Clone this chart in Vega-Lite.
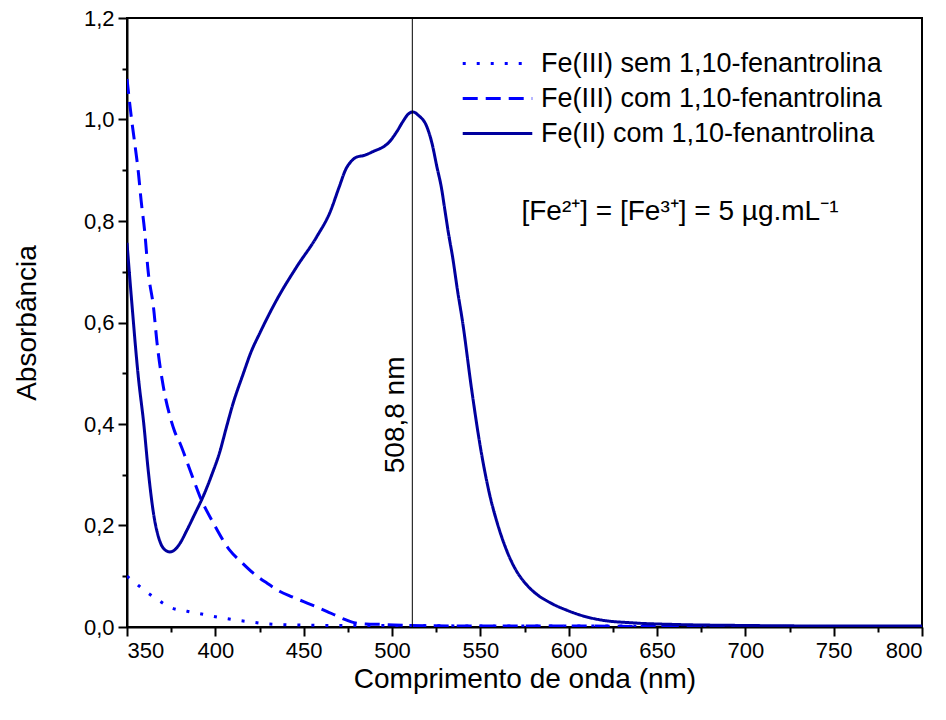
{
  "$schema": "https://vega.github.io/schema/vega-lite/v6.json",
  "width": 795,
  "height": 609,
  "autosize": {"type": "none"},
  "padding": {"left": 127, "top": 18, "right": 24, "bottom": 93},
  "background": "white",
  "config": {
    "view": {"stroke": "black", "strokeWidth": 2},
    "font": "Liberation Sans",
    "axis": {"labelFont": "Liberation Sans", "titleFont": "Liberation Sans", "labelColor": "black", "titleColor": "black", "titleFontWeight": "normal", "domainColor": "black", "domainWidth": 2, "tickColor": "black", "tickWidth": 2, "grid": false},
    "legend": {"labelFont": "Liberation Sans", "labelColor": "black"}
  },
  "datasets": {
    "curves": [
      {"s": "Fe(III) sem 1,10-fenantrolina", "x": 350, "y": 0.100},
      {"s": "Fe(III) sem 1,10-fenantrolina", "x": 355, "y": 0.086},
      {"s": "Fe(III) sem 1,10-fenantrolina", "x": 360, "y": 0.072},
      {"s": "Fe(III) sem 1,10-fenantrolina", "x": 366, "y": 0.057},
      {"s": "Fe(III) sem 1,10-fenantrolina", "x": 375, "y": 0.038},
      {"s": "Fe(III) sem 1,10-fenantrolina", "x": 384, "y": 0.031},
      {"s": "Fe(III) sem 1,10-fenantrolina", "x": 393, "y": 0.025},
      {"s": "Fe(III) sem 1,10-fenantrolina", "x": 402, "y": 0.019},
      {"s": "Fe(III) sem 1,10-fenantrolina", "x": 411, "y": 0.014},
      {"s": "Fe(III) sem 1,10-fenantrolina", "x": 420, "y": 0.010},
      {"s": "Fe(III) sem 1,10-fenantrolina", "x": 430, "y": 0.006},
      {"s": "Fe(III) sem 1,10-fenantrolina", "x": 445, "y": 0.004},
      {"s": "Fe(III) sem 1,10-fenantrolina", "x": 470, "y": 0.003},
      {"s": "Fe(III) sem 1,10-fenantrolina", "x": 500, "y": 0.003},
      {"s": "Fe(III) sem 1,10-fenantrolina", "x": 550, "y": 0.002},
      {"s": "Fe(III) sem 1,10-fenantrolina", "x": 600, "y": 0.002},
      {"s": "Fe(III) sem 1,10-fenantrolina", "x": 700, "y": 0.001},
      {"s": "Fe(III) sem 1,10-fenantrolina", "x": 800, "y": 0.001},

      {"s": "Fe(III) com 1,10-fenantrolina", "x": 350, "y": 1.08},
      {"s": "Fe(III) com 1,10-fenantrolina", "x": 352.6, "y": 1.0},
      {"s": "Fe(III) com 1,10-fenantrolina", "x": 354.5, "y": 0.95},
      {"s": "Fe(III) com 1,10-fenantrolina", "x": 356.4, "y": 0.897},
      {"s": "Fe(III) com 1,10-fenantrolina", "x": 358, "y": 0.84},
      {"s": "Fe(III) com 1,10-fenantrolina", "x": 360, "y": 0.78},
      {"s": "Fe(III) com 1,10-fenantrolina", "x": 362, "y": 0.70},
      {"s": "Fe(III) com 1,10-fenantrolina", "x": 365, "y": 0.63},
      {"s": "Fe(III) com 1,10-fenantrolina", "x": 367, "y": 0.56},
      {"s": "Fe(III) com 1,10-fenantrolina", "x": 370.6, "y": 0.473},
      {"s": "Fe(III) com 1,10-fenantrolina", "x": 374.4, "y": 0.414},
      {"s": "Fe(III) com 1,10-fenantrolina", "x": 377, "y": 0.385},
      {"s": "Fe(III) com 1,10-fenantrolina", "x": 380, "y": 0.362},
      {"s": "Fe(III) com 1,10-fenantrolina", "x": 385.7, "y": 0.309},
      {"s": "Fe(III) com 1,10-fenantrolina", "x": 391.3, "y": 0.257},
      {"s": "Fe(III) com 1,10-fenantrolina", "x": 399, "y": 0.204},
      {"s": "Fe(III) com 1,10-fenantrolina", "x": 408, "y": 0.152},
      {"s": "Fe(III) com 1,10-fenantrolina", "x": 415, "y": 0.127},
      {"s": "Fe(III) com 1,10-fenantrolina", "x": 421.5, "y": 0.106},
      {"s": "Fe(III) com 1,10-fenantrolina", "x": 429, "y": 0.087},
      {"s": "Fe(III) com 1,10-fenantrolina", "x": 436.6, "y": 0.070},
      {"s": "Fe(III) com 1,10-fenantrolina", "x": 443, "y": 0.060},
      {"s": "Fe(III) com 1,10-fenantrolina", "x": 450, "y": 0.050},
      {"s": "Fe(III) com 1,10-fenantrolina", "x": 457, "y": 0.040},
      {"s": "Fe(III) com 1,10-fenantrolina", "x": 463, "y": 0.031},
      {"s": "Fe(III) com 1,10-fenantrolina", "x": 468, "y": 0.023},
      {"s": "Fe(III) com 1,10-fenantrolina", "x": 472.5, "y": 0.016},
      {"s": "Fe(III) com 1,10-fenantrolina", "x": 477, "y": 0.010},
      {"s": "Fe(III) com 1,10-fenantrolina", "x": 485, "y": 0.006},
      {"s": "Fe(III) com 1,10-fenantrolina", "x": 495, "y": 0.005},
      {"s": "Fe(III) com 1,10-fenantrolina", "x": 510, "y": 0.003},
      {"s": "Fe(III) com 1,10-fenantrolina", "x": 550, "y": 0.002},
      {"s": "Fe(III) com 1,10-fenantrolina", "x": 600, "y": 0.002},
      {"s": "Fe(III) com 1,10-fenantrolina", "x": 650, "y": 0.001},
      {"s": "Fe(III) com 1,10-fenantrolina", "x": 800, "y": 0.001},

      {"s": "Fe(II) com 1,10-fenantrolina", "x": 350, "y": 0.757},
      {"s": "Fe(II) com 1,10-fenantrolina", "x": 352.6, "y": 0.644},
      {"s": "Fe(II) com 1,10-fenantrolina", "x": 356.4, "y": 0.493},
      {"s": "Fe(II) com 1,10-fenantrolina", "x": 359.5, "y": 0.40},
      {"s": "Fe(II) com 1,10-fenantrolina", "x": 362, "y": 0.309},
      {"s": "Fe(II) com 1,10-fenantrolina", "x": 365, "y": 0.224},
      {"s": "Fe(II) com 1,10-fenantrolina", "x": 368.7, "y": 0.168},
      {"s": "Fe(II) com 1,10-fenantrolina", "x": 371.5, "y": 0.152},
      {"s": "Fe(II) com 1,10-fenantrolina", "x": 374.3, "y": 0.148},
      {"s": "Fe(II) com 1,10-fenantrolina", "x": 377, "y": 0.152},
      {"s": "Fe(II) com 1,10-fenantrolina", "x": 380, "y": 0.165},
      {"s": "Fe(II) com 1,10-fenantrolina", "x": 383.8, "y": 0.19},
      {"s": "Fe(II) com 1,10-fenantrolina", "x": 388, "y": 0.22},
      {"s": "Fe(II) com 1,10-fenantrolina", "x": 393.2, "y": 0.258},
      {"s": "Fe(II) com 1,10-fenantrolina", "x": 398, "y": 0.30},
      {"s": "Fe(II) com 1,10-fenantrolina", "x": 402.7, "y": 0.347},
      {"s": "Fe(II) com 1,10-fenantrolina", "x": 406, "y": 0.39},
      {"s": "Fe(II) com 1,10-fenantrolina", "x": 410, "y": 0.44},
      {"s": "Fe(II) com 1,10-fenantrolina", "x": 415.9, "y": 0.50},
      {"s": "Fe(II) com 1,10-fenantrolina", "x": 420, "y": 0.54},
      {"s": "Fe(II) com 1,10-fenantrolina", "x": 425.3, "y": 0.58},
      {"s": "Fe(II) com 1,10-fenantrolina", "x": 434.8, "y": 0.645},
      {"s": "Fe(II) com 1,10-fenantrolina", "x": 446.1, "y": 0.71},
      {"s": "Fe(II) com 1,10-fenantrolina", "x": 457.4, "y": 0.769},
      {"s": "Fe(II) com 1,10-fenantrolina", "x": 465, "y": 0.818},
      {"s": "Fe(II) com 1,10-fenantrolina", "x": 470, "y": 0.866},
      {"s": "Fe(II) com 1,10-fenantrolina", "x": 474, "y": 0.903},
      {"s": "Fe(II) com 1,10-fenantrolina", "x": 477, "y": 0.918},
      {"s": "Fe(II) com 1,10-fenantrolina", "x": 480, "y": 0.926},
      {"s": "Fe(II) com 1,10-fenantrolina", "x": 484, "y": 0.929},
      {"s": "Fe(II) com 1,10-fenantrolina", "x": 490, "y": 0.938},
      {"s": "Fe(II) com 1,10-fenantrolina", "x": 495, "y": 0.946},
      {"s": "Fe(II) com 1,10-fenantrolina", "x": 498, "y": 0.954},
      {"s": "Fe(II) com 1,10-fenantrolina", "x": 502.7, "y": 0.976},
      {"s": "Fe(II) com 1,10-fenantrolina", "x": 506, "y": 0.995},
      {"s": "Fe(II) com 1,10-fenantrolina", "x": 509, "y": 1.010},
      {"s": "Fe(II) com 1,10-fenantrolina", "x": 511.8, "y": 1.015},
      {"s": "Fe(II) com 1,10-fenantrolina", "x": 515, "y": 1.008},
      {"s": "Fe(II) com 1,10-fenantrolina", "x": 519.7, "y": 0.986},
      {"s": "Fe(II) com 1,10-fenantrolina", "x": 522.5, "y": 0.955},
      {"s": "Fe(II) com 1,10-fenantrolina", "x": 525.4, "y": 0.907},
      {"s": "Fe(II) com 1,10-fenantrolina", "x": 528, "y": 0.865},
      {"s": "Fe(II) com 1,10-fenantrolina", "x": 530, "y": 0.82},
      {"s": "Fe(II) com 1,10-fenantrolina", "x": 532, "y": 0.775},
      {"s": "Fe(II) com 1,10-fenantrolina", "x": 534.4, "y": 0.727},
      {"s": "Fe(II) com 1,10-fenantrolina", "x": 537, "y": 0.665},
      {"s": "Fe(II) com 1,10-fenantrolina", "x": 540, "y": 0.60},
      {"s": "Fe(II) com 1,10-fenantrolina", "x": 545, "y": 0.47},
      {"s": "Fe(II) com 1,10-fenantrolina", "x": 550, "y": 0.355},
      {"s": "Fe(II) com 1,10-fenantrolina", "x": 555, "y": 0.265},
      {"s": "Fe(II) com 1,10-fenantrolina", "x": 560, "y": 0.20},
      {"s": "Fe(II) com 1,10-fenantrolina", "x": 565, "y": 0.15},
      {"s": "Fe(II) com 1,10-fenantrolina", "x": 570, "y": 0.113},
      {"s": "Fe(II) com 1,10-fenantrolina", "x": 575, "y": 0.088},
      {"s": "Fe(II) com 1,10-fenantrolina", "x": 580, "y": 0.070},
      {"s": "Fe(II) com 1,10-fenantrolina", "x": 590, "y": 0.047},
      {"s": "Fe(II) com 1,10-fenantrolina", "x": 599, "y": 0.033},
      {"s": "Fe(II) com 1,10-fenantrolina", "x": 610, "y": 0.020},
      {"s": "Fe(II) com 1,10-fenantrolina", "x": 618, "y": 0.014},
      {"s": "Fe(II) com 1,10-fenantrolina", "x": 637, "y": 0.008},
      {"s": "Fe(II) com 1,10-fenantrolina", "x": 660, "y": 0.005},
      {"s": "Fe(II) com 1,10-fenantrolina", "x": 700, "y": 0.003},
      {"s": "Fe(II) com 1,10-fenantrolina", "x": 750, "y": 0.002},
      {"s": "Fe(II) com 1,10-fenantrolina", "x": 800, "y": 0.002}
    ],
    "marker": [{"x": 511.5, "y": 0.418, "label": "508,8 nm"}],
    "note": [{"x": 663, "y": 0.818, "label": "[Fe²⁺] = [Fe³⁺] = 5 µg.mL⁻¹"}]
  },
  "layer": [
    {
      "data": {"name": "curves"},
      "mark": {"type": "line", "strokeWidth": 3, "interpolate": "monotone", "clip": true},
      "encoding": {
        "x": {"field": "x", "type": "quantitative", "scale": {"domain": [350, 800], "nice": false, "zero": false},
          "axis": {"title": "Comprimento de onda (nm)", "titleFontSize": 28, "labelFontSize": 22, "titlePadding": 4, "labelPadding": 4,
            "values": [350, 375, 400, 425, 450, 475, 500, 525, 550, 575, 600, 625, 650, 675, 700, 725, 750, 775, 800],
            "labelExpr": "datum.value % 50 === 0 ? datum.label : ''",
            "tickSize": {"condition": {"test": "datum.value % 50 === 0", "value": 9}, "value": 5}}},
        "y": {"field": "y", "type": "quantitative", "scale": {"domain": [0, 1.2], "nice": false},
          "axis": {"title": "Absorbância", "titleFontSize": 28, "labelFontSize": 22, "titlePadding": 42, "labelPadding": 4,
            "values": [0, 0.1, 0.2, 0.3, 0.4, 0.5, 0.6, 0.7, 0.8, 0.9, 1.0, 1.1, 1.2],
            "labelExpr": "round(datum.value * 10) % 2 === 0 ? replace(format(datum.value, '.1f'), '.', ',') : ''",
            "tickSize": {"condition": {"test": "round(datum.value * 10) % 2 === 0", "value": 9}, "value": 5}}},
        "color": {"field": "s", "type": "nominal",
          "scale": {"domain": ["Fe(III) sem 1,10-fenantrolina", "Fe(III) com 1,10-fenantrolina", "Fe(II) com 1,10-fenantrolina"], "range": ["#0000FF", "#0000FF", "#00009E"]},
          "legend": {"title": null, "orient": "none", "legendX": 353, "legendY": 28, "labelFontSize": 27, "labelLimit": 0, "symbolType": "M-2.2,0H2.2", "symbolSize": 1000, "symbolStrokeWidth": 3, "symbolFillColor": "transparent", "rowPadding": 4, "labelOffset": 26}},
        "strokeDash": {"field": "s", "type": "nominal",
          "scale": {"domain": ["Fe(III) sem 1,10-fenantrolina", "Fe(III) com 1,10-fenantrolina", "Fe(II) com 1,10-fenantrolina"], "range": [[3, 11], [15, 8], [1, 0]]},
          "legend": {"title": null, "orient": "none", "legendX": 353, "legendY": 28, "labelFontSize": 27, "labelLimit": 0, "symbolType": "M-2.2,0H2.2", "symbolSize": 1000, "symbolStrokeWidth": 3, "symbolFillColor": "transparent", "rowPadding": 4, "labelOffset": 26}}
      }
    },
    {
      "data": {"name": "marker"},
      "mark": {"type": "rule", "color": "black", "strokeWidth": 1},
      "encoding": {"x": {"field": "x", "type": "quantitative"}}
    },
    {
      "data": {"name": "marker"},
      "mark": {"type": "text", "angle": 270, "fontSize": 28, "font": "Liberation Sans", "align": "center", "baseline": "bottom", "color": "black", "dy": -2},
      "encoding": {"x": {"field": "x", "type": "quantitative"}, "y": {"field": "y", "type": "quantitative"}, "text": {"field": "label"}}
    },
    {
      "data": {"name": "note"},
      "mark": {"type": "text", "fontSize": 28, "font": "Liberation Sans", "align": "center", "baseline": "middle", "color": "black"},
      "encoding": {"x": {"field": "x", "type": "quantitative"}, "y": {"field": "y", "type": "quantitative"}, "text": {"field": "label"}}
    }
  ]
}
